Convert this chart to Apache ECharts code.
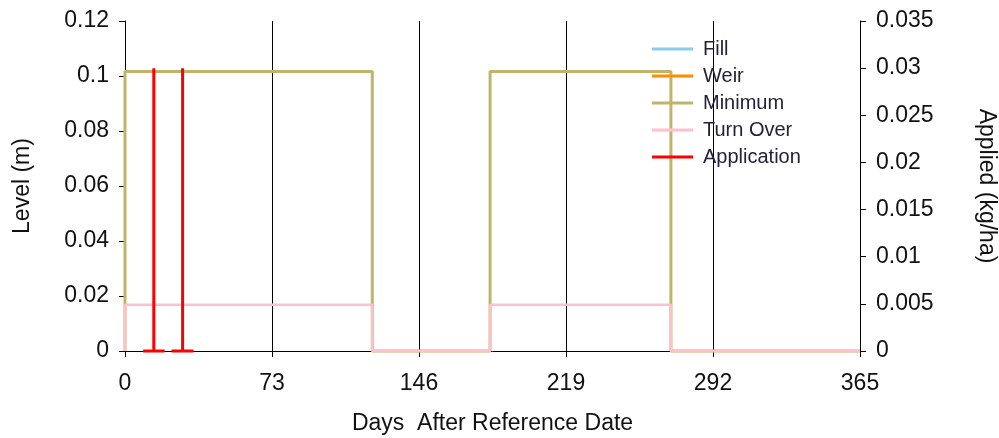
<!DOCTYPE html>
<html>
<head>
<meta charset="utf-8">
<script src="https://cdn.jsdelivr.net/npm/echarts@6/dist/echarts.min.js"></script>
<style>
html,body{margin:0;padding:0;background:#fff;overflow:hidden;width:999px;height:438px;}
#chart{width:999px;height:438px;}
</style>
</head>
<body>
<div id="chart"></div>
<script>
// ---- data ----
const seriesNames = ['Fill', 'Weir', 'Minimum', 'Turn Over', 'Application'];
const xTicks = [0, 73, 146, 219, 292, 365];

// Minimum level (m), step outline
const minDays  = [0, 0, 122.8, 122.8, 181.3, 181.3, 271.1, 271.1, 365];
const minLevel = [0, 0.1016, 0.1016, 0, 0, 0.1016, 0.1016, 0, 0];

// Turn Over level (m)
const toDays  = [0, 0, 122.8, 122.8, 181.3, 181.3, 271.1, 271.1, 365];
const toLevel = [0, 0.0168, 0.0168, 0, 0, 0.0168, 0.0168, 0, 0];

// Application (kg/ha) on right axis; '-' breaks the line
const appDays = [9, 14.3, 14.3, 14.3, 19.7, '-', 23.1, 28.6, 28.6, 28.6, 34];
const appRate = [0, 0, 0.03, 0, 0, '-', 0, 0, 0.03, 0, 0];

// Fill and Weir have no visible marks
const fillDays = [];
const fillLevel = [];
const weirDays = [];
const weirLevel = [];

const colors = {
  'Fill': '#8ccbec',
  'Weir': '#ff8c00',
  'Minimum': '#c0b36a',
  'Turn Over': '#ffc0cb',
  'Application': '#ff0000'
};

function pairs(xs, ys) {
  return xs.map((x, i) => (x === '-' ? ['-', '-'] : [x, ys[i]]));
}

const FONT = 'Liberation Sans, Arial, sans-serif';

const chart = echarts.init(document.getElementById('chart'), null, {renderer: 'canvas', width: 999, height: 438});

function lineSeries(name, data, width, yAxisIndex) {
  return {
    name: name,
    type: 'line',
    data: data,
    yAxisIndex: yAxisIndex,
    showSymbol: false,
    symbol: 'none',
    clip: false,
    connectNulls: false,
    animation: false,
    lineStyle: {color: colors[name], width: width},
    itemStyle: {color: colors[name]},
    emphasis: {disabled: true}
  };
}

const option = {
  animation: false,
  backgroundColor: '#ffffff',
  grid: {left: 125, right: 139, top: 21, bottom: 87, containLabel: false, outerBoundsMode: 'none'},
  legend: {
    orient: 'vertical',
    left: 652,
    top: 39,
    padding: 0,
    itemWidth: 41,
    itemHeight: 3,
    itemGap: 7,
    icon: 'rect',
    data: seriesNames.map(n => ({name: n, icon: 'rect', itemStyle: {color: colors[n]}})),
    textStyle: {fontFamily: FONT, fontSize: 20, color: '#22223a', lineHeight: 20, padding: [0, 0, 0, 5]}
  },
  xAxis: {
    type: 'value',
    min: xTicks[0],
    max: xTicks[xTicks.length - 1],
    interval: 73,
    name: 'Days  After Reference Date',
    nameLocation: 'middle',
    nameGap: 61,
    nameTextStyle: {fontFamily: FONT, fontSize: 23, color: '#111'},
    axisLine: {show: true, lineStyle: {color: '#000', width: 1}},
    axisTick: {show: true, inside: false, length: 6, lineStyle: {color: '#000'}},
    axisLabel: {fontFamily: FONT, fontSize: 23, color: '#111', margin: 21},
    splitLine: {show: true, lineStyle: {color: '#000', width: 1}}
  },
  yAxis: [
    {
      type: 'value',
      min: 0,
      max: 0.12,
      interval: 0.02,
      position: 'left',
      name: 'Level (m)',
      nameLocation: 'middle',
      nameRotate: 90,
      nameGap: 91,
      nameTextStyle: {fontFamily: FONT, fontSize: 23, color: '#111'},
      axisLine: {show: true, lineStyle: {color: '#000', width: 1}},
      axisTick: {show: true, inside: false, length: 6, lineStyle: {color: '#000'}},
      axisLabel: {fontFamily: FONT, fontSize: 23, color: '#111', margin: 16},
      splitLine: {show: false}
    },
    {
      type: 'value',
      min: 0,
      max: 0.035,
      interval: 0.005,
      position: 'right',
      name: 'Applied (kg/ha)',
      nameLocation: 'middle',
      nameRotate: -90,
      nameGap: 115,
      nameTextStyle: {fontFamily: FONT, fontSize: 23, color: '#111'},
      axisLine: {show: true, lineStyle: {color: '#000', width: 1}},
      axisTick: {show: true, inside: false, length: 6, lineStyle: {color: '#000'}},
      axisLabel: {fontFamily: FONT, fontSize: 23, color: '#111', margin: 16},
      splitLine: {show: false}
    }
  ],
  series: [
    lineSeries('Fill', pairs(fillDays, fillLevel), 3, 0),
    lineSeries('Weir', pairs(weirDays, weirLevel), 3, 0),
    lineSeries('Minimum', pairs(minDays, minLevel), 3, 0),
    lineSeries('Turn Over', pairs(toDays, toLevel), 2.5, 0),
    lineSeries('Application', pairs(appDays, appRate), 3, 1)
  ]
};

chart.setOption(option);
</script>
</body>
</html>
